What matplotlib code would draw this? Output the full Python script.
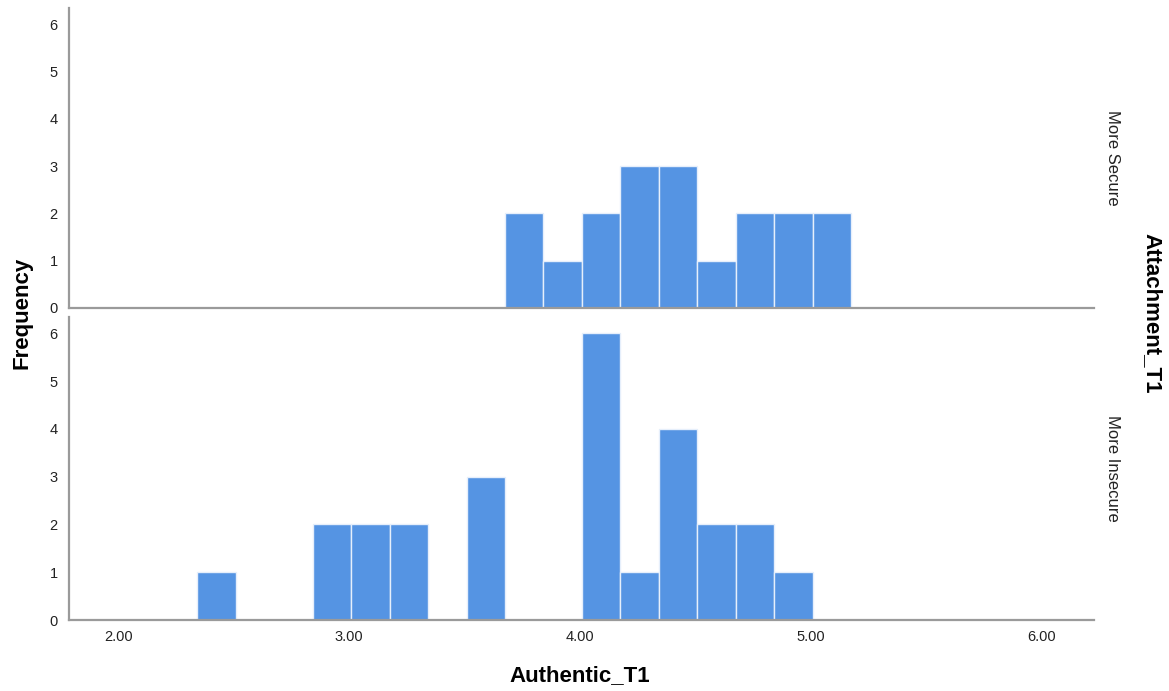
import numpy as np
import matplotlib
matplotlib.use('Agg')
import matplotlib.pyplot as plt

plt.rcParams['font.family'] = ['Liberation Sans', 'DejaVu Sans']

# histogram bins (SPSS style): 24 bins of width 1/6 starting at 2.01
bin_start = 2.01
bin_width = 1 / 6
panels = ['More Secure', 'More Insecure']
counts_secure = [0, 0, 0, 0, 0, 0, 0, 0, 0, 0, 2, 1, 2, 3, 3, 1, 2, 2, 2, 0, 0, 0, 0, 0]
counts_insecure = [0, 0, 1, 0, 0, 2, 2, 2, 0, 3, 0, 0, 6, 1, 4, 2, 2, 1, 0, 0, 0, 0, 0, 0]
x_ticks = [2.0, 3.0, 4.0, 5.0, 6.0]
y_ticks = [0, 1, 2, 3, 4, 5, 6]

edges = bin_start + bin_width * np.arange(len(counts_secure))

fig = plt.figure(figsize=(11.69, 6.91), dpi=100)
ax_top = fig.add_axes([0.059, 0.5543, 0.877, 0.434])
ax_bot = fig.add_axes([0.059, 0.1027, 0.877, 0.4385])

bar_color = '#5594e3'
spine_color = '#9a9a9a'

for ax, counts, name in [(ax_top, counts_secure, panels[0]), (ax_bot, counts_insecure, panels[1])]:
    ax.bar(edges, counts, width=bin_width, align='edge', color=bar_color,
           edgecolor='#e6effb', linewidth=1.0)
    ax.set_xlim(1.787, 6.23)
    ax.set_ylim(0, 6.34)
    ax.set_yticks(y_ticks)
    ax.set_yticklabels([str(v) for v in y_ticks], fontsize=10.5, color='#222222')
    for s in ['top', 'right']:
        ax.spines[s].set_visible(False)
    for s in ['left', 'bottom']:
        ax.spines[s].set_color(spine_color)
        ax.spines[s].set_linewidth(1.6)
    ax.tick_params(axis='both', length=0, pad=8)
    ax.text(1.011, 0.5, name, transform=ax.transAxes,
            rotation=-90, ha='left', va='center', fontsize=12, color='#222222')

ax_top.set_xticks([])
ax_bot.set_xticks(x_ticks)
ax_bot.set_xticklabels(['%.2f' % v for v in x_ticks], fontsize=10.5, color='#222222')
ax_bot.tick_params(axis='x', pad=7)

fig.text(0.019, 0.547, 'Frequency', rotation=90, ha='center', va='center',
         fontsize=16, fontweight='bold')
fig.text(0.496, 0.022, 'Authentic_T1', ha='center', va='center',
         fontsize=16, fontweight='bold')
fig.text(0.985, 0.547, 'Attachment_T1', rotation=-90, ha='center', va='center',
         fontsize=16, fontweight='bold')

fig.savefig('out.png', dpi=100, facecolor='white')
